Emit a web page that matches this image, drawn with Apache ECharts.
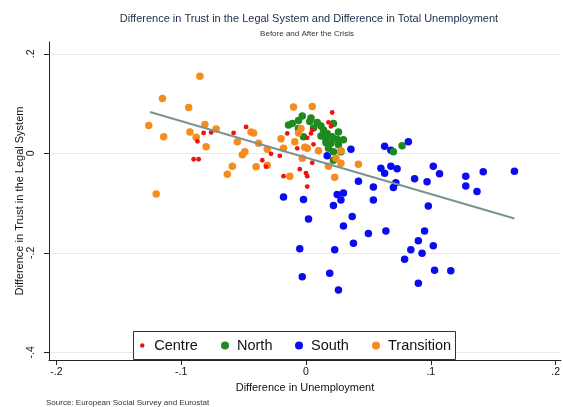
<!DOCTYPE html>
<html>
<head>
<meta charset="utf-8">
<script src="https://cdn.jsdelivr.net/npm/echarts@6/dist/echarts.min.js"></script>
<style>html,body{margin:0;padding:0;background:#fff}#c{width:563px;height:407px}</style>
</head>
<body>
<div id="c"></div>
<script>
var FONT = "'Liberation Sans', Arial, sans-serif";
var yTicks = [-0.4, -0.2, 0, 0.2];
var xTicks = [-0.2, -0.1, 0, 0.1, 0.2];

var centreX = [-0.082,-0.076,-0.087,-0.058,-0.048,-0.090,-0.086,-0.028,-0.021,-0.035,-0.032,-0.018,-0.015,-0.007,-0.005,0.000,0.001,0.001,0.005,0.021,0.004,0.005,0.001,0.018,0.020,0.006];
var centreY = [0.041,0.042,0.024,0.041,0.053,-0.012,-0.012,-0.001,-0.005,-0.014,-0.027,-0.046,0.040,0.010,-0.032,-0.040,-0.046,-0.067,-0.019,0.082,0.040,0.047,0.031,0.062,0.054,0.018];

var northX = [-0.014,-0.003,-0.011,-0.006,0.003,0.009,0.012,0.014,0.022,0.017,0.021,0.016,0.020,0.025,0.030,0.026,0.018,0.022,0.022,-0.002,-0.006,0.070,0.077,0.016,0.006,0.026,0.012,0.004,0.028];
var northY = [0.057,0.075,0.060,0.066,0.064,0.062,0.055,0.047,0.060,0.040,0.033,0.027,0.020,0.028,0.027,0.017,0.010,0.003,-0.014,0.033,0.050,0.003,0.015,0.021,0.051,0.043,0.035,0.071,0.003];

var southX = [-0.018,-0.002,0.002,-0.005,-0.003,0.019,0.026,0.023,0.038,0.030,0.037,0.050,0.064,0.022,0.028,0.025,0.030,0.054,0.042,0.054,0.036,0.017,0.063,0.068,0.082,0.060,0.063,0.068,0.073,0.072,0.070,0.087,0.097,0.102,0.107,0.128,0.128,0.137,0.142,0.167,0.098,0.095,0.090,0.102,0.084,0.093,0.079,0.103,0.116,0.090];
var southY = [-0.088,-0.093,-0.132,-0.192,-0.248,-0.241,-0.275,-0.194,-0.181,-0.146,-0.127,-0.161,-0.156,-0.105,-0.094,-0.083,-0.080,-0.094,-0.056,-0.068,0.008,-0.005,0.014,0.006,0.023,-0.030,-0.040,-0.026,-0.031,-0.059,-0.069,-0.051,-0.057,-0.026,-0.041,-0.046,-0.066,-0.077,-0.037,-0.036,-0.106,-0.156,-0.176,-0.186,-0.194,-0.201,-0.213,-0.235,-0.236,-0.261];

var transX = [-0.085,-0.115,-0.094,-0.126,-0.114,-0.093,-0.088,-0.081,-0.072,-0.080,-0.055,-0.044,-0.042,-0.038,-0.031,-0.049,-0.051,-0.059,-0.063,-0.040,-0.031,-0.020,-0.018,-0.013,-0.120,-0.010,0.005,-0.004,-0.006,-0.009,0.001,0.010,0.028,-0.003,0.018,0.024,0.028,0.042,0.023,-0.001];
var transY = [0.155,0.110,0.092,0.056,0.033,0.043,0.032,0.058,0.049,0.013,0.023,0.043,0.041,0.020,0.008,0.003,-0.003,-0.026,-0.042,-0.027,-0.024,0.029,0.010,-0.046,-0.082,0.093,0.094,0.050,0.041,0.023,0.010,0.005,0.005,-0.010,-0.026,-0.010,-0.020,-0.022,-0.048,0.012];

var fitX = [-0.125, 0.167];
var fitY = [0.083, -0.131];

function zip(a, b) { return a.map(function (v, i) { return [v, b[i]]; }); }
function fmt(v) {
  if (Math.abs(v) < 1e-9) return '0';
  var s = String(Math.abs(+v.toFixed(2))).replace(/^0/, '');
  return (v < 0 ? '-' : '') + s;
}

var colors = { Centre: '#ec1313', North: '#1f8a1f', South: '#0b0bf2', Transition: '#f78c1e' };

var chart = echarts.init(document.getElementById('c'), null, { renderer: 'canvas' });

function oneLegend(name, left, size) {
  return {
    data: [{ name: name, icon: 'circle' }],
    left: left, top: 338, padding: 0,
    itemWidth: 14, itemHeight: size, itemGap: 0,
    selectedMode: false,
    textStyle: { fontFamily: FONT, fontSize: 14.5, color: '#111' }
  };
}

var option = {
  animation: false,
  backgroundColor: '#fff',
  textStyle: { fontFamily: FONT },
  grid: { left: 49, right: 0, top: 42, bottom: 47, containLabel: false },
  xAxis: {
    type: 'value', min: -0.2059, max: 0.2043,
    name: 'Difference in Unemployment', nameLocation: 'middle', nameGap: 18,
    nameTextStyle: { fontFamily: FONT, fontSize: 11, color: '#111' },
    axisLine: { show: true, onZero: false, lineStyle: { color: '#222', width: 1 } },
    axisTick: { show: true, length: 5, customValues: xTicks, lineStyle: { color: '#222' } },
    axisLabel: { customValues: xTicks, formatter: fmt, fontSize: 10.5, color: '#111', margin: 7 },
    splitLine: { show: false }
  },
  yAxis: {
    type: 'value', min: -0.4155, max: 0.2237,
    name: 'Difference in Trust in the Legal System', nameLocation: 'middle', nameGap: 24, nameRotate: 90,
    nameMoveOverlap: false,
    nameTextStyle: { fontFamily: FONT, fontSize: 11, color: '#111' },
    axisLine: { show: true, onZero: false, lineStyle: { color: '#222', width: 1 } },
    axisTick: { show: true, length: 5, customValues: yTicks, lineStyle: { color: '#222' } },
    axisLabel: { customValues: yTicks, formatter: fmt, fontSize: 10.5, color: '#111', rotate: 90, margin: 12 },
    splitLine: { show: true, lineStyle: { color: '#eaeaea', width: 1 } }
  },
  legend: [
    oneLegend('Centre', 140, 4.5),
    oneLegend('North', 221, 8),
    oneLegend('South', 295, 8),
    oneLegend('Transition', 372, 8)
  ],
  graphic: [
    { type: 'rect', left: 133, top: 331, shape: { width: 322, height: 28 }, style: { fill: '#fff', stroke: '#333', lineWidth: 1 }, z: 1 },
    { type: 'text', x: 309, y: 19, style: { text: 'Difference in Trust in the Legal System and Difference in Total Unemployment', font: '11px ' + FONT, fill: '#1c2b4a', textAlign: 'center', textVerticalAlign: 'middle' } },
    { type: 'text', x: 307, y: 34, style: { text: 'Before and After the Crisis', font: '8px ' + FONT, fill: '#333', textAlign: 'center', textVerticalAlign: 'middle' } },
    { type: 'text', x: 46, y: 403, style: { text: 'Source: European Social Survey and Eurostat', font: '8px ' + FONT, fill: '#333', textAlign: 'left', textVerticalAlign: 'middle' } }
  ],
  series: [
    { name: 'South', type: 'scatter', data: zip(southX, southY), symbolSize: 7.5, itemStyle: { color: colors.South, opacity: 1 }, z: 3 },
    { name: 'North', type: 'scatter', data: zip(northX, northY), symbolSize: 7.5, itemStyle: { color: colors.North, opacity: 1 }, z: 4 },
    { name: 'Transition', type: 'scatter', data: zip(transX, transY), symbolSize: 7.5, itemStyle: { color: colors.Transition, opacity: 1 }, z: 5 },
    { name: 'Centre', type: 'scatter', data: zip(centreX, centreY), symbolSize: 4.8, itemStyle: { color: colors.Centre, opacity: 1 }, z: 6 },
    { name: 'Fit', type: 'line', data: zip(fitX, fitY), symbol: 'none', lineStyle: { color: '#7a9494', width: 2 }, z: 7, silent: true }
  ]
};
chart.setOption(option);
</script>
</body>
</html>
